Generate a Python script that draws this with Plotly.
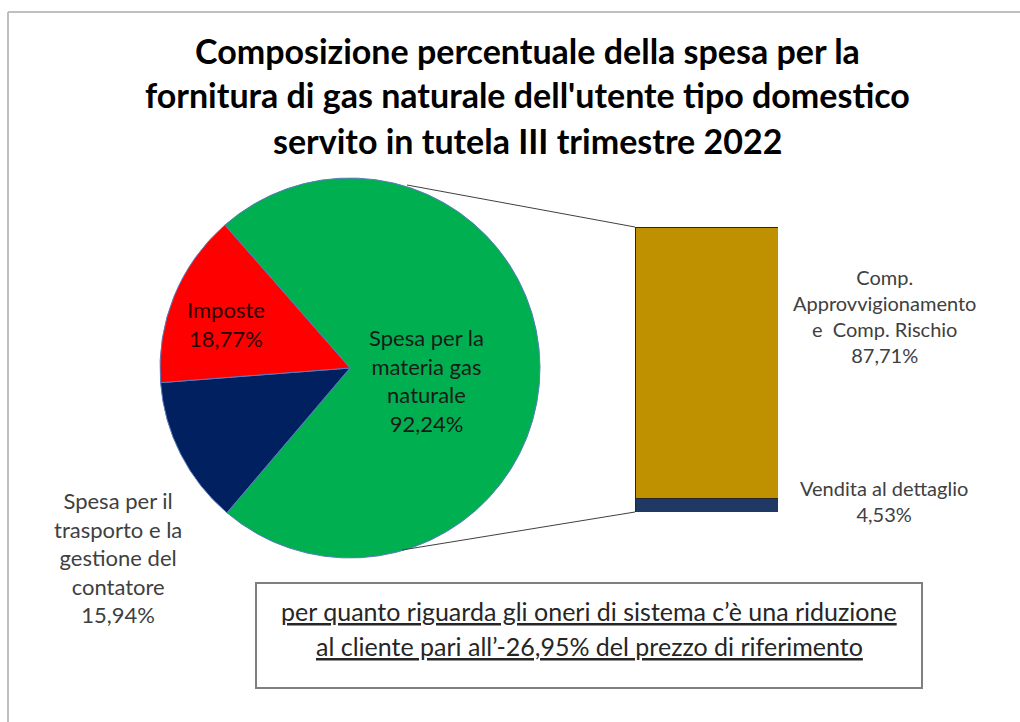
import plotly.graph_objects as go

W, H = 1020, 722

# ---- data ----
pie_labels = ["Spesa per la materia gas naturale",
              "Spesa per il trasporto e la gestione del contatore",
              "Imposte"]
pie_values = [92.24, 15.94, 18.77]
pie_colors = ["#00B050", "#002060", "#FF0000"]
pie_text = ["Spesa per la<br>materia gas<br>naturale<br>92,24%",
            "Spesa per il<br>trasporto e la<br>gestione del<br>contatore<br>15,94%",
            "Imposte<br>18,77%"]

bar_labels = ["Vendita al dettaglio",
              "Comp. Approvvigionamento e Comp. Rischio"]
bar_values = [4.53, 87.71]
bar_colors = ["#1F3864", "#BF9000"]
bar_text = ["Vendita al dettaglio<br>4,53%",
            "Comp.<br>Approvvigionamento<br>e  Comp. Rischio<br>87,71%"]

title_lines = ["Composizione percentuale della spesa per la",
               "fornitura di gas naturale dell'utente tipo domestico",
               "servito in tutela III trimestre 2022"]
note_lines = ["per quanto riguarda gli oneri di sistema c’è una riduzione",
              "al cliente pari all’-26,95% del prezzo di riferimento"]

FONT = "Lato, Calibri, Carlito, 'Open Sans', sans-serif"


def px(x):
    return x / W


def py(y):
    return 1 - y / H


fig = go.Figure()

# pie: center (350,368), radius 190
cx, cy, r = 350, 368, 190
fig.add_trace(go.Pie(
    labels=pie_labels, values=pie_values, sort=False, direction="clockwise",
    rotation=-41.2,
    marker=dict(colors=pie_colors, line=dict(color="#5B7BC0", width=1)),
    textinfo="none", hoverinfo="label+value", showlegend=False,
    domain=dict(x=[px(cx - r), px(cx + r)], y=[py(cy + r), py(cy - r)]),
))

# stacked bar
bar_total = sum(bar_values)
for lab, val, col in zip(bar_labels, bar_values, bar_colors):
    fig.add_trace(go.Bar(
        x=[0], y=[val], name=lab, width=1,
        marker=dict(color=col, line=dict(color="#262626", width=1)),
        showlegend=False, hoverinfo="name+y",
    ))

fig.update_layout(
    barmode="stack",
    width=W, height=H, autosize=False,
    margin=dict(l=0, r=0, t=0, b=0),
    paper_bgcolor="white", plot_bgcolor="rgba(0,0,0,0)",
    xaxis=dict(domain=[px(635), px(778)], range=[-0.5, 0.5], visible=False,
               fixedrange=True),
    yaxis=dict(domain=[py(512), py(227)], range=[0, bar_total], visible=False,
               fixedrange=True),
    font=dict(family=FONT),
)


def A(x, y, text, size, color):
    return dict(x=px(x), y=py(y), xref="paper", yref="paper", text=text,
                showarrow=False, xanchor="center", yanchor="middle",
                font=dict(size=size, color=color, family=FONT))


ann = []
# title
for i, t in enumerate(title_lines):
    ann.append(A(527, 50 + 45 * i, "<b>" + t + "</b>", 34, "#000000"))
# pie labels
ann.append(A(426, 380, pie_text[0], 22, "#1A1A1A"))
ann.append(A(118, 557, pie_text[1], 22, "#404040"))
ann.append(A(226, 324, pie_text[2], 22, "#2A0000"))
# bar labels
ann.append(A(884, 501, bar_text[0], 20, "#404040"))
ann.append(A(884, 316, bar_text[1], 20, "#404040"))
# note box text
for i, t in enumerate(note_lines):
    ann.append(A(589, 611 + 35 * i, "<u>" + t + "</u>", 25, "#262626"))
fig.update_layout(annotations=ann)

shapes = [
    # outer frame (top and left visible)
    dict(type="line", xref="paper", yref="paper", x0=px(8), y0=py(12),
         x1=px(1030), y1=py(12), line=dict(color="#BFBFBF", width=2)),
    dict(type="line", xref="paper", yref="paper", x0=px(8), y0=py(12),
         x1=px(8), y1=py(730), line=dict(color="#BFBFBF", width=2)),
    # connector lines pie -> bar
    dict(type="line", xref="paper", yref="paper", x0=px(407), y0=py(185),
         x1=px(635), y1=py(227), line=dict(color="#404040", width=1)),
    dict(type="line", xref="paper", yref="paper", x0=px(402), y0=py(550),
         x1=px(635), y1=py(512), line=dict(color="#404040", width=1)),
    # note box
    dict(type="rect", xref="paper", yref="paper", x0=px(256), y0=py(583),
         x1=px(922), y1=py(688), line=dict(color="#7F7F7F", width=2),
         fillcolor="rgba(0,0,0,0)"),
]
fig.update_layout(shapes=shapes)

fig.write_html("out.html", config={"displayModeBar": False},
               post_script="document.body.style.margin='0';")
